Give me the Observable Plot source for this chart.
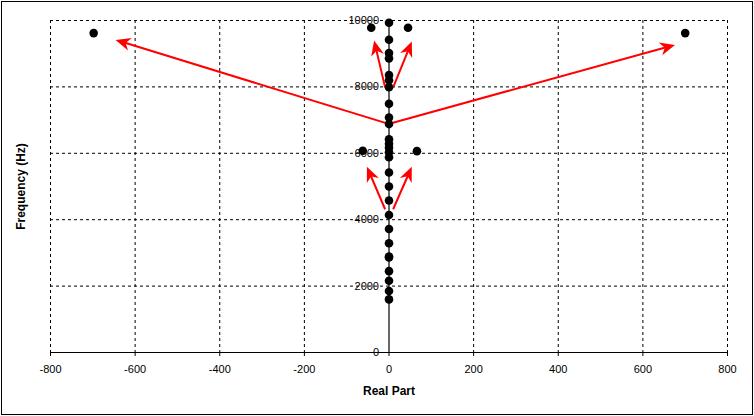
<!DOCTYPE html>
<html>
<head>
<meta charset="utf-8">
<script src="https://cdn.jsdelivr.net/npm/d3@7"></script>
<script src="https://cdn.jsdelivr.net/npm/@observablehq/plot@0.6"></script>
<style>
  html, body { margin: 0; padding: 0; background: #fff; }
  #chart svg { display: block; outline: 1px solid #000; outline-offset: -2px; }
</style>
</head>
<body>
<div id="chart"></div>
<script>
// Axis ticks
const xTicks = [-800, -600, -400, -200, 0, 200, 400, 600, 800];
const yTicks = [0, 2000, 4000, 6000, 8000, 10000];

// Points on the imaginary axis (real part 0), frequency in Hz
const axisFreqs = [1600, 1850, 2160, 2450, 2860, 2890, 3290, 3720, 4140, 4580, 5000, 5420,
  5880, 6030, 6170, 6290, 6420, 6880, 7080, 7490, 7990, 8200, 8360, 8860, 9020, 9420, 9930];
// Off-axis points
const offReal = [-42, 45, -62, 66, -698, 700];
const offFreq = [9780, 9780, 6075, 6065, 9620, 9620];

// Arrows (start real, start freq, tip real, tip freq)
const arrowX1 = [0, 0, -8, 11, -8, 11];
const arrowY1 = [6870, 6870, 7970, 7970, 4300, 4300];
const arrowX2 = [-645, 677, -34, 55, -51, 55];
const arrowY2 = [9400, 9250, 9380, 9350, 5580, 5580];

const points = axisFreqs.map(f => ({re: 0, f}))
  .concat(offReal.map((r, i) => ({re: r, f: offFreq[i]})));
const arrows = arrowX1.map((x, i) => ({x1: x, y1: arrowY1[i], x2: arrowX2[i], y2: arrowY2[i]}));

function filledArrows(index, scales, values) {
  const g = d3.create("svg:g").attr("fill", "red").attr("stroke", "red");
  const {x1, y1, x2, y2} = values;
  const head = 15, half = 6.5;
  for (const i of index) {
    const ax = x1[i], ay = y1[i], bx = x2[i], by = y2[i];
    const dx = bx - ax, dy = by - ay, L = Math.hypot(dx, dy);
    const ux = dx / L, uy = dy / L;
    const baseX = bx - ux * head, baseY = by - uy * head;
    g.append("line").attr("x1", ax).attr("y1", ay)
      .attr("x2", bx - ux * head * 0.6).attr("y2", by - uy * head * 0.6)
      .attr("stroke-width", 2);
    g.append("path").attr("stroke", "none")
      .attr("d", `M${bx},${by}L${baseX - uy * half},${baseY + ux * half}L${bx - ux * head * 0.7},${by - uy * head * 0.7}L${baseX + uy * half},${baseY - ux * half}Z`);
  }
  return g.node();
}

const plot = Plot.plot({
  width: 754,
  height: 416,
  marginLeft: 50,
  marginRight: 27,
  marginTop: 20,
  marginBottom: 64,
  style: {fontFamily: "Liberation Sans, Arial, sans-serif", fontSize: "11px", background: "#fff", color: "#000"},
  x: {domain: [-800, 800], ticks: xTicks, tickFormat: d => String(d), tickSize: 4, tickPadding: 9, label: null},
  y: {domain: [0, 10000], axis: null},
  marks: [
    Plot.ruleX(xTicks.filter(d => d !== 0), {stroke: "#000", strokeDasharray: "3,3", strokeOpacity: 1}),
    Plot.ruleY(yTicks.filter(d => d !== 0), {stroke: "#000", strokeDasharray: "3,3", strokeOpacity: 1}),
    Plot.text(yTicks, {x: 0, y: d => d, text: d => String(d), textAnchor: "end", dx: -10}),
    Plot.ruleX([0], {y1: 0, y2: 10000, stroke: "#000", strokeWidth: 1.2}),
    Plot.ruleY([0], {stroke: "#000"}),
    Plot.arrow(arrows, {x1: "x1", y1: "y1", x2: "x2", y2: "y2", stroke: "red", strokeWidth: 2, render: filledArrows}),
    Plot.dot(points, {x: "re", y: "f", r: 4.3, fill: "#000", stroke: "none"}),
    Plot.text(["Real Part"], {frameAnchor: "bottom", dy: 42, textAnchor: "middle", fontWeight: "bold", fontSize: 12}),
    Plot.text(["Frequency (Hz)"], {frameAnchor: "left", dx: -29, textAnchor: "middle", rotate: -90, fontWeight: "bold", fontSize: 12})
  ]
});
document.getElementById("chart").appendChild(plot);
</script>
</body>
</html>
